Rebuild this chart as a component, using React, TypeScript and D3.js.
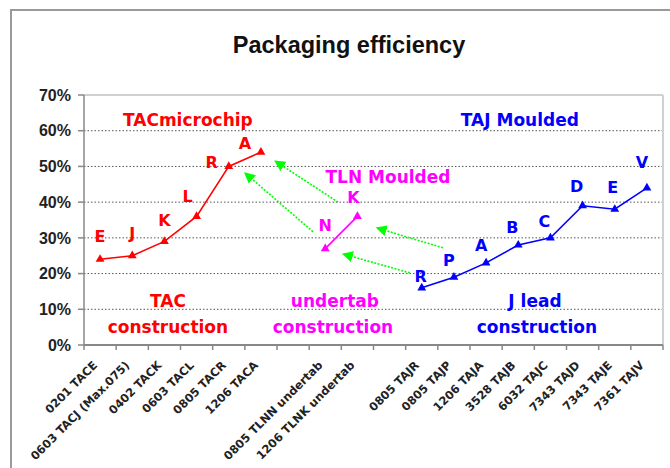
import React from 'react';
import * as d3 from 'd3';

const categories = [
  '0201 TACE', '0603 TACJ (Max.075)', '0402 TACK', '0603 TACL', '0805 TACR', '1206 TACA',
  '', '0805 TLNN undertab', '1206 TLNK undertab', '',
  '0805 TAJR', '0805 TAJP', '1206 TAJA', '3528 TAJB', '6032 TAJC', '7343 TAJD', '7343 TAJE', '7361 TAJV',
];

const tacValues = [0.24, 0.25, 0.29, 0.36, 0.5, 0.54];
const tacLetters = ['E', 'J', 'K', 'L', 'R', 'A'];
const tlnValues = [0.27, 0.36];
const tlnLetters = ['N', 'K'];
const tajValues = [0.16, 0.19, 0.23, 0.28, 0.3, 0.39, 0.38, 0.44];
const tajLetters = ['R', 'P', 'A', 'B', 'C', 'D', 'E', 'V'];

const yTicks = [0, 0.1, 0.2, 0.3, 0.4, 0.5, 0.6, 0.7];

// arrows in band units (x) and value (y): [x1, y1, x2, y2]
const arrows = [
  [7.9, 0.4, 5.94, 0.515],
  [7.12, 0.317, 5.0, 0.482],
  [11.16, 0.272, 9.1, 0.328],
  [10.13, 0.202, 8.05, 0.255],
];

// group captions: text, band-unit x, value y
const captions = [
  { text: 'TACmicrochip', u: 3.23, v: 0.63, color: 'red' },
  { text: 'TAJ Moulded', u: 13.55, v: 0.63, color: 'blue' },
  { text: 'TLN Moulded', u: 9.45, v: 0.47, color: 'magenta' },
  { text: 'TAC', u: 2.61, v: 0.123, color: 'red' },
  { text: 'construction', u: 2.61, v: 0.05, color: 'red' },
  { text: 'undertab', u: 7.8, v: 0.123, color: 'magenta' },
  { text: 'construction', u: 7.74, v: 0.05, color: 'magenta' },
  { text: 'J lead', u: 14.02, v: 0.123, color: 'blue' },
  { text: 'construction', u: 14.08, v: 0.05, color: 'blue' },
];

const colors: Record<string, string> = { red: '#ff0000', magenta: '#ff00ff', blue: '#0000ff' };

// letter label nudges (px) relative to each marker
const tacNudge = [[0, -23], [0, -22], [0, -21], [-9, -20], [-17, -4], [-16, -9]];
const tlnNudge = [[0, -23], [-4, -19]];
const tajNudge = [[-1, -12], [-5, -17], [-5, -18], [-6, -18], [-6, -17], [-6, -19], [-2, -22], [-5, -26]];

const W = 670;
const H = 468;
const margin = { left: 84, right: 7, top: 95, bottom: 123 };

export default function App() {
  const x = d3.scaleBand().domain(categories.map((c, i) => String(i))).range([margin.left, W - margin.right]);
  const u = d3.scaleLinear().domain([0, categories.length]).range([margin.left, W - margin.right]);
  const y = d3.scaleLinear().domain([0, 0.7]).range([H - margin.bottom, margin.top]);
  const cx = (i: number) => (x(String(i)) as number) + x.bandwidth() / 2;
  const tri = d3.symbol(d3.symbolTriangle, 34)() as string;
  const lineGen = d3.line<[number, number]>().x((d) => d[0]).y((d) => d[1]);

  const series = [
    { start: 0, values: tacValues, letters: tacLetters, nudge: tacNudge, color: colors.red },
    { start: 7, values: tlnValues, letters: tlnLetters, nudge: tlnNudge, color: colors.magenta },
    { start: 10, values: tajValues, letters: tajLetters, nudge: tajNudge, color: colors.blue },
  ];

  const font = 'DejaVu Sans, sans-serif';
  const x0 = margin.left;
  const x1 = W - margin.right;
  const yb = y(0);

  return (
    <svg width={W} height={H} style={{ position: 'absolute', left: 0, top: 0, background: '#fff' }}>
      <defs>
        <marker id="arr" viewBox="0 0 10 10" refX="9" refY="5" markerWidth="11" markerHeight="11" markerUnits="userSpaceOnUse" orient="auto">
          <path d="M0,0 L10,5 L0,10 z" fill="#00ff00" />
        </marker>
      </defs>
      <rect x={11} y={10} width={700} height={500} fill="#fff" stroke="#9a9a9a" strokeWidth={2} />
      <text x={349} y={53} textAnchor="middle" fontFamily="Liberation Sans, Arial, sans-serif" fontWeight="bold" fontSize={23.5} fill="#111">
        Packaging efficiency
      </text>

      {/* grid */}
      {yTicks.slice(1, -1).map((t) => (
        <line key={t} x1={x0} x2={x1} y1={y(t)} y2={y(t)} stroke="#555" strokeWidth={1} strokeDasharray="1.5 2" />
      ))}
      {/* plot frame */}
      <line x1={x0} x2={x1} y1={y(0.7)} y2={y(0.7)} stroke="#d0d0d0" strokeWidth={2} />
      <line x1={x1} x2={x1} y1={y(0.7)} y2={yb} stroke="#d0d0d0" strokeWidth={2} />
      <line x1={x0} x2={x0} y1={y(0.7)} y2={yb} stroke="#888" strokeWidth={1.5} />
      <line x1={x0} x2={x1} y1={yb} y2={yb} stroke="#888" strokeWidth={2} />

      {/* y axis */}
      {yTicks.map((t) => (
        <g key={t}>
          <line x1={x0 - 6} x2={x0} y1={y(t)} y2={y(t)} stroke="#888" strokeWidth={1.5} />
          <text x={71} y={y(t)} dy="0.36em" textAnchor="end" fontFamily="Liberation Sans, Arial, sans-serif" fontWeight="bold" fontSize={16} fill="#222">
            {d3.format('.0%')(t)}
          </text>
        </g>
      ))}

      {/* x axis ticks & labels */}
      {d3.range(categories.length + 1).map((i) => (
        <line key={'t' + i} x1={u(i)} x2={u(i)} y1={yb} y2={yb + 5} stroke="#888" strokeWidth={1.5} />
      ))}
      {categories.map((c, i) =>
        c ? (
          <text
            key={'l' + i}
            transform={`translate(${cx(i) - 2},${yb + 21}) rotate(-45)`}
            textAnchor="end"
            fontFamily={font}
            fontWeight="bold"
            fontSize={11.5}
            fill="#222"
          >
            {c}
          </text>
        ) : null
      )}

      {/* green arrows */}
      {arrows.map((a, i) => (
        <line
          key={'a' + i}
          x1={u(a[0])}
          y1={y(a[1])}
          x2={u(a[2])}
          y2={y(a[3])}
          stroke="#00ff00"
          strokeWidth={1.6}
          strokeDasharray="2 1.5"
          markerEnd="url(#arr)"
        />
      ))}

      {/* series */}
      {series.map((s, si) => {
        const pts = s.values.map((v, k) => [cx(s.start + k), y(v)] as [number, number]);
        return (
          <g key={'s' + si}>
            <path d={lineGen(pts) as string} fill="none" stroke={s.color} strokeWidth={1.6} />
            {pts.map((p, k) => (
              <path key={k} d={tri} transform={`translate(${p[0]},${p[1]})`} fill={s.color} />
            ))}
            {pts.map((p, k) => (
              <text
                key={'lt' + k}
                x={p[0] + s.nudge[k][0]}
                y={p[1] + s.nudge[k][1]}
                dy="0.36em"
                textAnchor="middle"
                fontFamily={font}
                fontWeight="bold"
                fontSize={16}
                fill={s.color}
              >
                {s.letters[k]}
              </text>
            ))}
          </g>
        );
      })}

      {/* captions */}
      {captions.map((c, i) => (
        <text
          key={'c' + i}
          x={u(c.u)}
          y={y(c.v)}
          dy="0.36em"
          textAnchor="middle"
          fontFamily={font}
          fontWeight="bold"
          fontSize={17}
          fill={colors[c.color]}
        >
          {c.text}
        </text>
      ))}
    </svg>
  );
}
